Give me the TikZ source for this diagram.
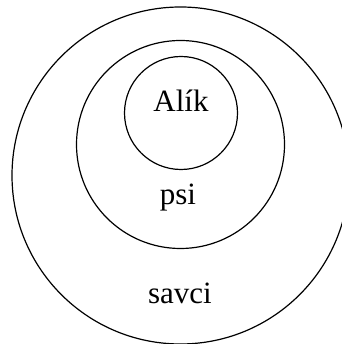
\documentclass[tikz,border=0pt]{standalone}
\usepackage{fontspec}
\setmainfont{Liberation Serif}
\usepackage{tikz}

\begin{document}
\begin{tikzpicture}[x=1pt, y=1pt, font=\fontsize{31}{36}\selectfont,
    ring/.style={draw, circle, line width=1.2pt, inner sep=0pt},
    tag/.style={anchor=base, inner sep=0pt}]
  \useasboundingbox (0,0) rectangle (341,344);
  \node[ring, minimum size=337pt] (savci) at (180.5,168.5) {};
  \node[ring, minimum size=208pt] (psi) at (180.5,199.5) {};
  \node[ring, minimum size=113pt] (alik) at (181,231) {};
  \node[tag] (alikText) at (181,232) {Alík};
  \node[tag] (psiText) at (178,139) {psi};
  \node[tag] (savciText) at (180,40) {savci};
\end{tikzpicture}
\end{document}
